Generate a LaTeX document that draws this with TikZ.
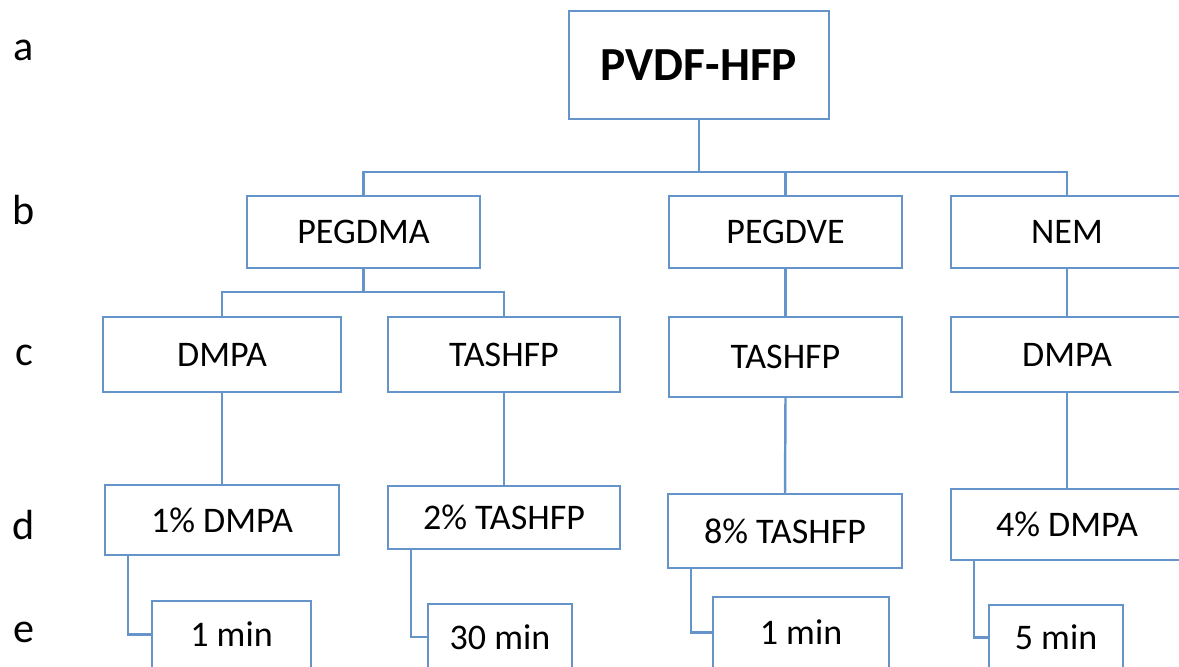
\documentclass[tikz,border=0pt]{standalone}
\usepackage{fontspec}
\setmainfont{Carlito}
\definecolor{lblue}{RGB}{100,148,202}
\tikzset{
  px/.style={x=0.02cm,y=-0.02cm},
  box/.style={draw=lblue, line width=1.4pt, inner sep=0pt, font=\fontsize{20.5}{24}\selectfont, text=black},
  conn/.style={draw=lblue, line width=1.4pt},
  lbl/.style={font=\fontsize{24}{28}\selectfont, inner sep=0pt}
}
\newcommand{\bx}[6]{\node[box, minimum width=#4*0.02cm, minimum height=#5*0.02cm] (#1) at (#2,#3) {#6};}
\begin{document}
\begin{tikzpicture}[px]
\useasboundingbox (0,0) rectangle (1179,666);
% row a
\node[box, minimum width=260*0.02cm, minimum height=108*0.02cm, font=\fontsize{27}{32}\selectfont\bfseries] (A) at (699,65) {PVDF-HFP};
% row b
\bx{B1}{363.5}{232}{233}{72}{PEGDMA}
\bx{B2}{785.5}{232}{233}{72}{PEGDVE}
\bx{B3}{1067}{232}{232}{72}{NEM}
% row c
\bx{C1}{222}{354.5}{238}{75}{DMPA}
\bx{C2}{504}{354.5}{232}{75}{TASHFP}
\bx{C3}{785.5}{357}{233}{80}{TASHFP}
\bx{C4}{1067}{354.5}{232}{75}{DMPA}
% row d
\bx{D1}{222}{520}{234}{70}{1\% DMPA}
\bx{D2}{504}{517.5}{232}{63}{2\% TASHFP}
\bx{D3}{785}{531}{234}{74}{8\% TASHFP}
\bx{D4}{1067}{524.5}{232}{71}{4\% DMPA}
% row e
\bx{E1}{231.5}{634.5}{159}{67}{1 min}
\bx{E2}{500}{637}{144}{66}{30 min}
\bx{E3}{801}{632.5}{176}{71}{1 min}
\bx{E4}{1056}{637.5}{134}{65}{5 min}
% connectors
\coordinate (busA) at (699,172);
\coordinate (busB) at (363.5,292);
\draw[conn] (A.south) -- (busA);
\draw[conn] (B1.north) |- (busA) -| (B3.north);
\draw[conn] (B2.north) -- (B2.north |- busA);
\draw[conn] (B1.south) -- (busB);
\draw[conn] (C1.north) |- (busB) -| (C2.north);
\draw[conn] (B2.south) -- (C3.north);
\draw[conn] (B3.south) -- (C4.north);
\draw[conn] (C1.south) -- (D1.north);
\draw[conn] (C2.south) -- (D2.north);
\draw[conn] (C3.south) -- (D3.north);
\draw[conn] (C4.south) -- (D4.north);
\draw[conn] ([xshift=0.48cm]D1.south west) |- (E1.west);
\draw[conn] ([xshift=0.48cm]D2.south west) |- (E2.west);
\draw[conn] ([xshift=0.48cm]D3.south west) |- (E3.west);
\draw[conn] ([xshift=0.48cm]D4.south west) |- (E4.west);
% row labels
\node[lbl] (la) at (24,50) {a};
\node[lbl] (lb) at (24,210) {b};
\node[lbl] (lc) at (24,355) {c};
\node[lbl] (ld) at (24,525) {d};
\node[lbl] (le) at (24,632) {e};
\end{tikzpicture}
\end{document}
